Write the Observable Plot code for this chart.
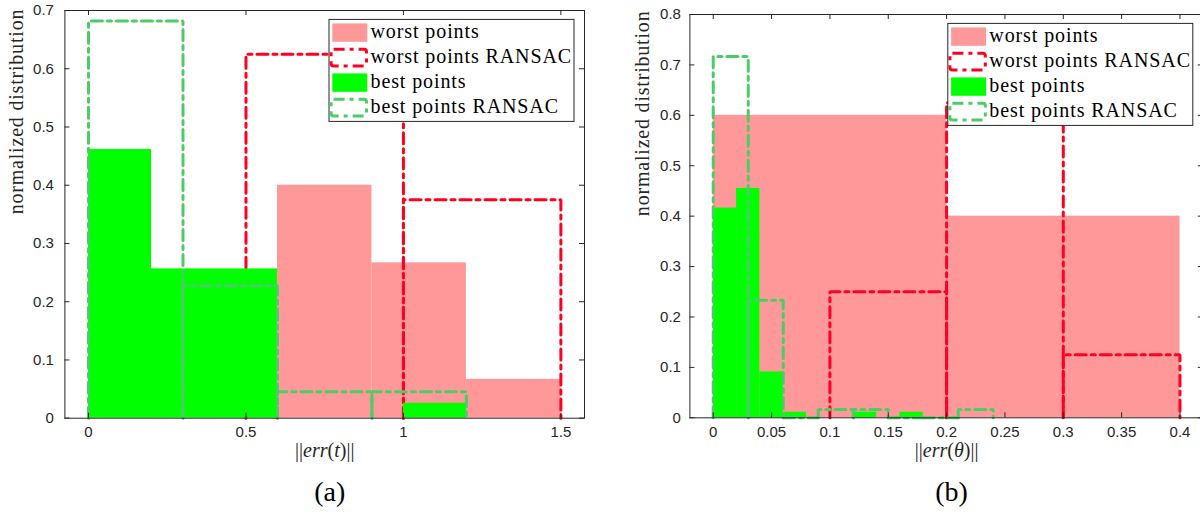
<!DOCTYPE html>
<html><head><meta charset="utf-8">
<script src="https://cdn.jsdelivr.net/npm/d3@7"></script>
<script src="https://cdn.jsdelivr.net/npm/@observablehq/plot@0.6"></script>
<style>
html,body{margin:0;padding:0;background:#fff;overflow:hidden}
#fig{position:relative;width:1200px;height:522px;overflow:hidden;background:#fff}
#a{position:absolute;left:0;top:0;width:600px}
#b{position:absolute;left:600px;top:0;width:620px}
#fig svg{max-width:none !important}
</style></head><body>
<div id="fig"><div id="a"></div><div id="b"></div></div>
<script>
// ---------- data ----------
const legendLabels = ["worst points", "worst points RANSAC", "best points", "best points RANSAC"];
const yLabel = "normalized distribution";

// (a) ||err(t)||
const aWorstEdges = [0.6, 0.9, 1.2, 1.5];
const aWorstValues = [0.4, 0.2667, 0.0667];
const aWorstRansacEdges = [0.5, 1.0, 1.5];
const aWorstRansacValues = [0.625, 0.375];
const aBestEdges = [0, 0.2, 0.4, 0.6, 0.8, 1.0, 1.2];
const aBestValues = [0.4615, 0.2564, 0.2564, 0, 0, 0.0256];
const aBestRansacEdges = [0, 0.3, 0.6, 0.9, 1.2];
const aBestRansacValues = [0.6818, 0.2273, 0.0455, 0.0455];
const aXTicks = [0, 0.5, 1, 1.5];
const aYTicks = [0, 0.1, 0.2, 0.3, 0.4, 0.5, 0.6, 0.7];
const aXLabel = [["||", false], ["err", true], ["(", false], ["t", true], [")||", false]];
const aCaption = "(a)";

// (b) ||err(θ)||
const bWorstEdges = [0, 0.2, 0.4];
const bWorstValues = [0.6, 0.4];
const bWorstRansacEdges = [0.1, 0.2, 0.3, 0.4];
const bWorstRansacValues = [0.25, 0.625, 0.125];
const bBestEdges = [0, 0.02, 0.04, 0.06, 0.08, 0.1, 0.12, 0.14, 0.16, 0.18];
const bBestValues = [0.416, 0.455, 0.091, 0.011, 0, 0, 0.011, 0, 0.011];
const bBestRansacEdges = [0, 0.03, 0.06, 0.09, 0.12, 0.15, 0.18, 0.21, 0.24];
const bBestRansacValues = [0.7167, 0.2333, 0, 0.0167, 0.0167, 0, 0, 0.0167];
const bXTicks = [0, 0.05, 0.1, 0.15, 0.2, 0.25, 0.3, 0.35, 0.4];
const bYTicks = [0, 0.1, 0.2, 0.3, 0.4, 0.5, 0.6, 0.7, 0.8];
const bXLabel = [["||", false], ["err", true], ["(", false], ["θ", true], [")||", false]];
const bCaption = "(b)";

// ---------- styles ----------
const PINK = "#ff9999", GREEN = "#00ff00", RED = "#ff0022", GREEN_D = "#4ccc66";
const AXIS = "#262626";
const DASH = "11,5,4,5";
const SERIF = "'Liberation Serif', 'Times New Roman', serif";
const SANS = "'Liberation Sans', Arial, Helvetica, sans-serif";

const bins = (edges, values) => values.map((v, i) => ({x1: edges[i], x2: edges[i + 1], y: v}));
const outline = (edges, values) => values.flatMap((v, i) => [
  {x: edges[i], y: 0, bin: i}, {x: edges[i], y: v, bin: i},
  {x: edges[i + 1], y: v, bin: i}, {x: edges[i + 1], y: 0, bin: i}
]);

function makeChart(c) {
  const fh = c.height - c.marginTop - c.marginBottom;
  const fw = c.width - c.marginLeft - c.marginRight;
  const plainX = c.xLabel.map(p => p[0]).join("");
  const svg = Plot.plot({
    width: c.width, height: c.height,
    marginLeft: c.marginLeft, marginRight: c.marginRight,
    marginTop: c.marginTop, marginBottom: c.marginBottom,
    x: {domain: c.xDomain},
    y: {domain: c.yDomain},
    style: {fontFamily: SANS, fontSize: "15px", color: AXIS, background: "white", maxWidth: "none"},
    marks: [
      Plot.rect(bins(c.worstEdges, c.worstValues), {x1: "x1", x2: "x2", y1: 0, y2: "y", fill: PINK, inset: 0}),
      Plot.line(outline(c.worstRansacEdges, c.worstRansacValues), {x: "x", y: "y", z: "bin", stroke: RED, strokeWidth: 3, strokeDasharray: DASH, strokeLinejoin: "miter"}),
      Plot.rect(bins(c.bestEdges, c.bestValues), {x1: "x1", x2: "x2", y1: 0, y2: "y", fill: GREEN, inset: 0}),
      Plot.line(outline(c.bestRansacEdges, c.bestRansacValues), {x: "x", y: "y", z: "bin", stroke: GREEN_D, strokeWidth: 3, strokeDasharray: DASH, strokeLinejoin: "miter"}),
      Plot.frame({stroke: AXIS, strokeWidth: 1}),
      Plot.tickX(c.xTicks, {x: d => d, insetTop: fh - 5, stroke: AXIS}),
      Plot.tickX(c.xTicks, {x: d => d, insetBottom: fh - 5, stroke: AXIS}),
      Plot.tickY(c.yTicks, {y: d => d, insetRight: fw - 5, stroke: AXIS}),
      Plot.tickY(c.yTicks, {y: d => d, insetLeft: fw - 5, stroke: AXIS}),
      Plot.axisX(c.xTicks, {anchor: "bottom", tickSize: 0, tickPadding: 8.5, tickFormat: d => String(d), label: null, fill: AXIS}),
      Plot.axisY(c.yTicks, {anchor: "left", tickSize: 0, tickPadding: c.yPad, tickFormat: d => String(d), label: null, fill: AXIS}),
      Plot.text([yLabel], {frameAnchor: "left", rotate: -90, dx: c.yLabelDx, text: d => d, fontFamily: SERIF, fontSize: 20, fill: AXIS}),
      Plot.text([plainX], {frameAnchor: "bottom", dy: 39, text: d => d, fontFamily: SERIF, fontSize: 20, fill: AXIS}),
      Plot.text([c.caption], {frameAnchor: "bottom", dy: 83, dx: 5, text: d => d, fontFamily: SERIF, fontSize: 28, fill: "#000"})
    ]
  });
  const root = d3.select(svg);
  // mixed upright/italic axis label
  root.selectAll("text").filter(function () { return this.textContent === plainX; }).each(function () {
    const t = d3.select(this);
    t.text(null);
    c.xLabel.forEach(([s, it]) => t.append("tspan").attr("font-style", it ? "italic" : "normal").text(s));
  });
  root.selectAll("text").filter(function () { return this.textContent === yLabel; }).attr("letter-spacing", "0.8px");
  // legend (northeast)
  const lw = 245, lh = 102;
  const x0 = c.width - c.marginRight - 10 - lw, y0 = c.marginTop + 9.4;
  const g = root.append("g").attr("font-family", SERIF).attr("font-size", 20).attr("text-anchor", "start");
  g.append("rect").attr("x", x0).attr("y", y0).attr("width", lw).attr("height", lh)
    .attr("fill", "white").attr("stroke", AXIS).attr("stroke-width", 1);
  const styles = [{fill: PINK}, {stroke: RED}, {fill: GREEN}, {stroke: GREEN_D}];
  legendLabels.forEach((lab, i) => {
    const cy = y0 + 13.2 + i * 25;
    const s = styles[i];
    if (s.fill) {
      g.append("rect").attr("x", x0 + 3.3).attr("y", cy - 9.2).attr("width", 35).attr("height", 18.4).attr("fill", s.fill);
    } else {
      g.append("rect").attr("x", x0 + 2.1).attr("y", cy - 8.3).attr("width", 35.4).attr("height", 16.6).attr("rx", 2.5)
        .attr("fill", "none").attr("stroke", s.stroke).attr("stroke-width", 3).attr("stroke-dasharray", DASH);
    }
    g.append("text").attr("x", x0 + 41.5).attr("y", cy + 5.5).attr("fill", "#000")
      .attr("text-anchor", "start").attr("letter-spacing", "0.9px").text(lab);
  });
  return svg;
}

document.getElementById("a").append(makeChart({
  width: 600, height: 522, marginLeft: 64.4, marginRight: 16, marginTop: 10, marginBottom: 104.3,
  xDomain: [-0.075, 1.575], yDomain: [0, 0.7], yPad: 11, yLabelDx: -48,
  worstEdges: aWorstEdges, worstValues: aWorstValues,
  worstRansacEdges: aWorstRansacEdges, worstRansacValues: aWorstRansacValues,
  bestEdges: aBestEdges, bestValues: aBestValues,
  bestRansacEdges: aBestRansacEdges, bestRansacValues: aBestRansacValues,
  xTicks: aXTicks, yTicks: aYTicks, xLabel: aXLabel, caption: aCaption
}));

document.getElementById("b").append(makeChart({
  width: 620, height: 522, marginLeft: 89.4, marginRight: 17.2, marginTop: 14, marginBottom: 104.7,
  xDomain: [-0.02, 0.42], yDomain: [0, 0.8], yPad: 9, yLabelDx: -47,
  worstEdges: bWorstEdges, worstValues: bWorstValues,
  worstRansacEdges: bWorstRansacEdges, worstRansacValues: bWorstRansacValues,
  bestEdges: bBestEdges, bestValues: bBestValues,
  bestRansacEdges: bBestRansacEdges, bestRansacValues: bBestRansacValues,
  xTicks: bXTicks, yTicks: bYTicks, xLabel: bXLabel, caption: bCaption
}));
</script>
</body></html>
